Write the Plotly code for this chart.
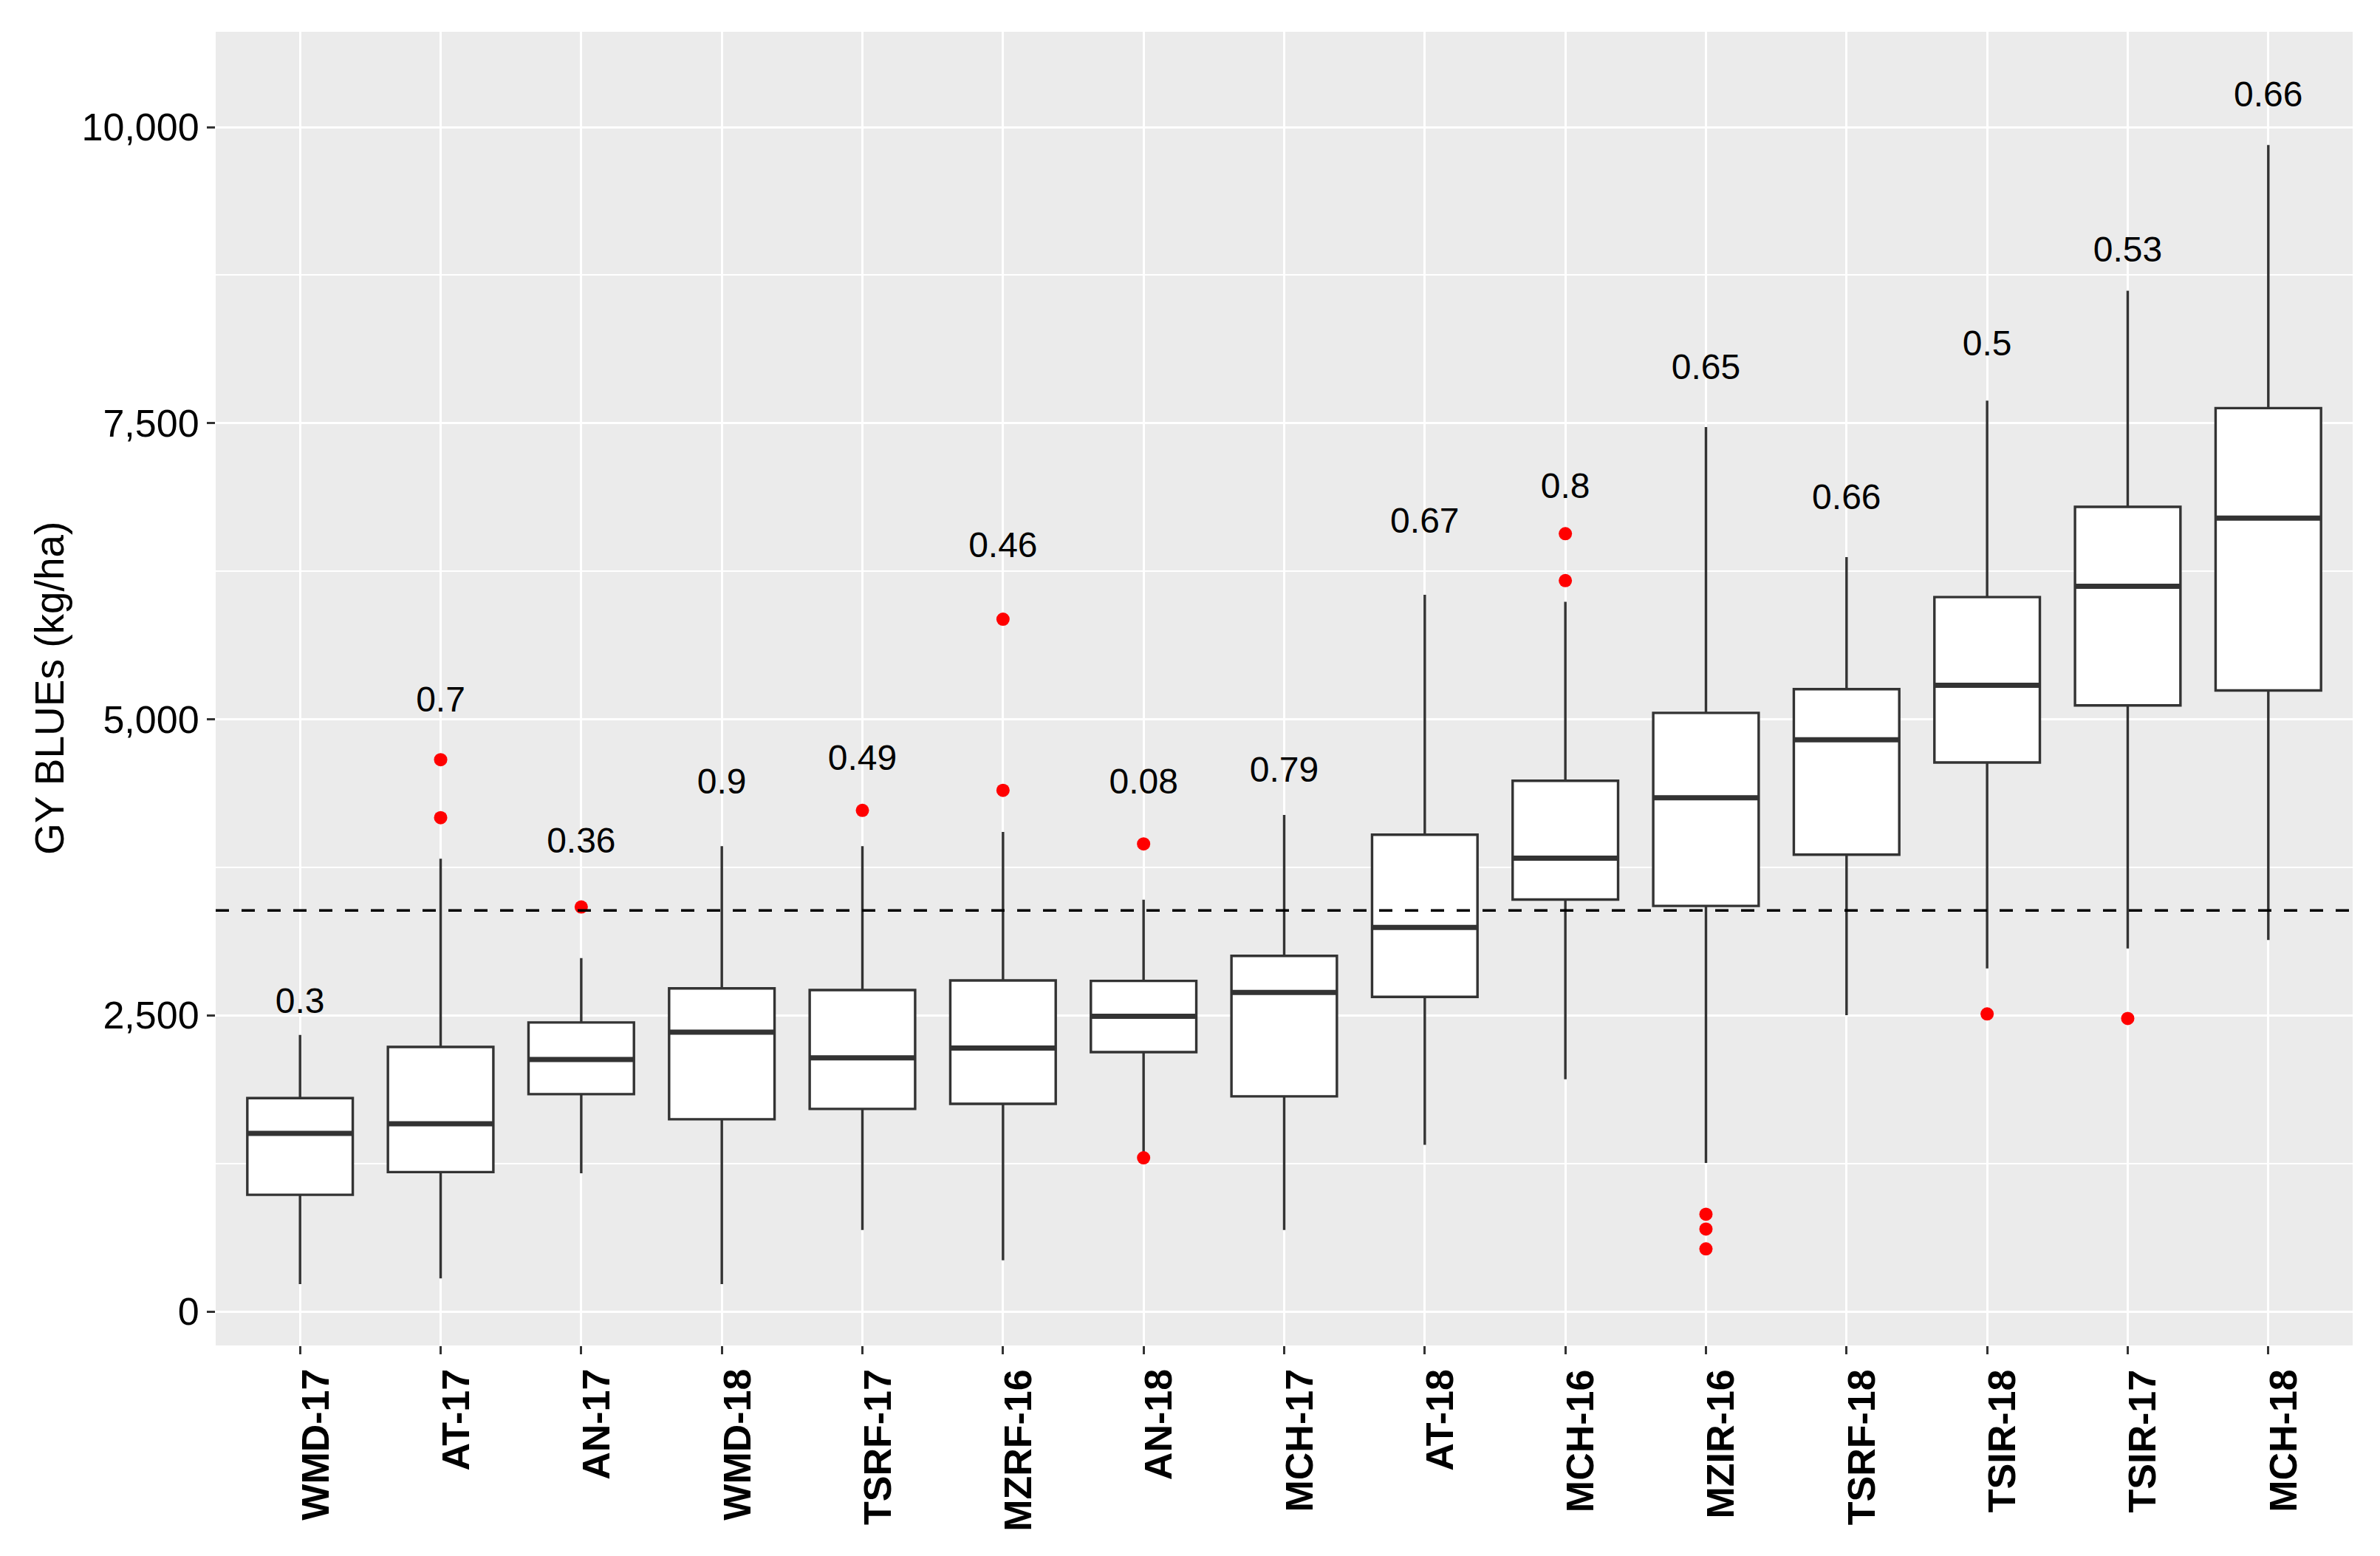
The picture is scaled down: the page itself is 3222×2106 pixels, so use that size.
import plotly.graph_objects as go

categories = ["WMD-17", "AT-17", "AN-17", "WMD-18", "TSRF-17", "MZRF-16", "AN-18", "MCH-17",
              "AT-18", "MCH-16", "MZIR-16", "TSRF-18", "TSIR-18", "TSIR-17", "MCH-18"]
lower_whisker = [231, 279, 1167, 231, 687, 432, 1340, 687, 1407, 1960, 1254, 2502, 2896, 3064, 3136]
q1 = [985, 1177, 1835, 1623, 1710, 1753, 2190, 1816, 2656, 3478, 3424, 3857, 4635, 5117, 5243]
median = [1503, 1585, 2128, 2358, 2142, 2224, 2493, 2694, 3242, 3828, 4337, 4827, 5287, 6123, 6698]
q3 = [1801, 2233, 2440, 2728, 2714, 2795, 2791, 3002, 4025, 4481, 5054, 5254, 6032, 6794, 7627]
upper_whisker = [2334, 3823, 2983, 3929, 3929, 4049, 3477, 4193, 6052, 5992, 7468, 6369, 7690, 8619, 9849]
outliers = [[], [4659, 4169], [3415], [], [4231], [5845, 4400], [3948, 1297], [], [],
            [6567, 6171], [821, 696, 528], [], [2512], [2474], []]
heritability = ["0.3", "0.7", "0.36", "0.9", "0.49", "0.46", "0.08", "0.79", "0.67", "0.8",
                "0.65", "0.66", "0.5", "0.53", "0.66"]
label_y = [2595, 5140, 3950, 4445, 4645, 6445, 4445, 4550, 6650, 6945, 7945, 6850, 8145, 8940, 10250]
overall_mean = 3386
y_title = "GY BLUEs (kg/ha)"

FONT = "Liberation Sans, Arial, sans-serif"
BOX_W = 0.75
LINE_C = "#333333"

fig = go.Figure()
xs = list(range(len(categories)))

for i, c in enumerate(categories):
    fig.add_trace(go.Box(
        x=[i], q1=[q1[i]], median=[median[i]], q3=[q3[i]],
        lowerfence=[lower_whisker[i]], upperfence=[upper_whisker[i]],
        width=BOX_W, fillcolor="white", line=dict(color=LINE_C, width=3.4),
        whiskerwidth=0, boxpoints=False, showlegend=False, name=c, hoverinfo="skip"))

# thicker median bars
mx, my = [], []
for i, m in enumerate(median):
    mx += [i - BOX_W / 2, i + BOX_W / 2, None]
    my += [m, m, None]
fig.add_trace(go.Scatter(x=mx, y=my, mode="lines", line=dict(color=LINE_C, width=7),
                         showlegend=False, hoverinfo="skip"))

# outliers
ox, oy = [], []
for i, vals in enumerate(outliers):
    for v in vals:
        ox.append(i)
        oy.append(v)
fig.add_trace(go.Scatter(x=ox, y=oy, mode="markers",
                         marker=dict(color="#FF0000", size=18, line=dict(width=0)),
                         showlegend=False, hoverinfo="skip"))

# heritability labels
fig.add_trace(go.Scatter(x=xs, y=label_y, mode="text", text=heritability,
                         textposition="middle center",
                         textfont=dict(family=FONT, size=48, color="black"),
                         showlegend=False, hoverinfo="skip", cliponaxis=False))

# dashed mean line
fig.add_shape(type="line", xref="paper", x0=0, x1=1, yref="y", y0=overall_mean, y1=overall_mean,
              line=dict(color="black", width=3.3, dash="18px,17px"), layer="above")

# x category labels as rotated annotations
for i, c in enumerate(categories):
    fig.add_annotation(x=i, xref="x", y=0, yref="paper", text="<b>%s</b>" % c,
                       textangle=-90, showarrow=False, xanchor="center", yanchor="top",
                       xshift=20, yshift=-30,
                       font=dict(family=FONT, size=52, color="black"))

# y title
fig.add_annotation(x=0, xref="paper", y=0.5, yref="paper", text=y_title, textangle=-90,
                   showarrow=False, xanchor="center", yanchor="middle", xshift=-225,
                   font=dict(family=FONT, size=55, color="black"))

fig.update_layout(
    width=3206, height=2090,
    margin=dict(l=284, r=29, t=35, b=277, pad=0),
    paper_bgcolor="white", plot_bgcolor="#EBEBEB",
    font=dict(family=FONT, color="black"),
    showlegend=False,
)
fig.update_xaxes(range=[-0.6, 14.6], tickvals=xs, ticktext=categories, showticklabels=False,
                 showgrid=True, gridcolor="white", gridwidth=3, zeroline=False,
                 ticks="outside", ticklen=11, tickwidth=3, tickcolor=LINE_C, showline=False)
fig.update_yaxes(range=[-287, 10805], tick0=0, dtick=2500, tickformat=",",
                 showgrid=True, gridcolor="white", gridwidth=3, zeroline=False,
                 minor=dict(dtick=1250, tick0=0, showgrid=True, gridcolor="white", gridwidth=1.5, ticks=""),
                 ticks="outside", ticklen=11, tickwidth=3, tickcolor=LINE_C, showline=False,
                 tickfont=dict(family=FONT, size=52, color="black"))

fig.write_html("out.html")
